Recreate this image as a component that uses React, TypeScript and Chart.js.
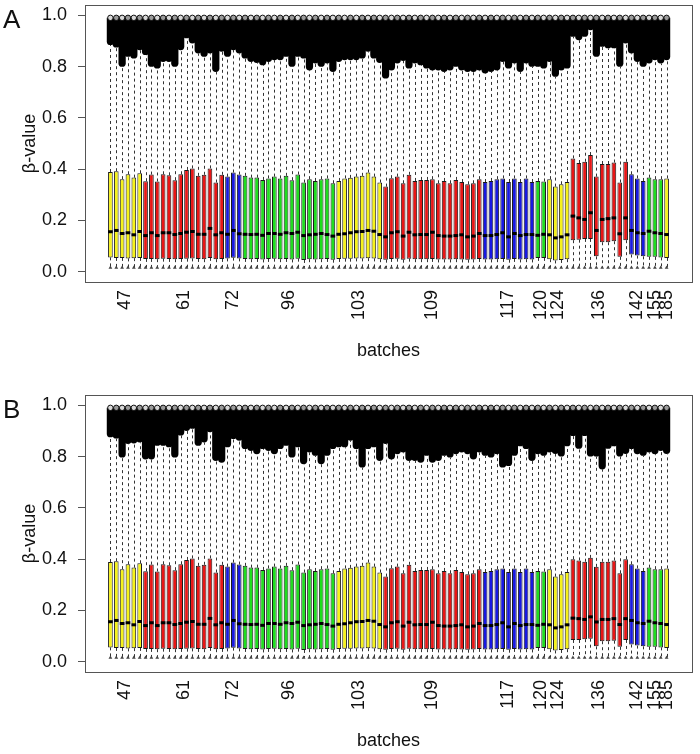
import React, { useEffect, useRef } from 'react';
import { Chart, registerables } from 'chart.js';

Chart.register(...registerables);

// ---- data ----
const batchLabels = ['47', '61', '72', '96', '103', '109', '117', '120', '124', '136', '142', '155', '185'];
const batchSizes = [6, 14, 3, 16, 8, 17, 9, 2, 4, 10, 3, 3, 1];
const batchColors = ['yellow', 'red', 'blue', 'green', 'yellow', 'red', 'blue', 'green', 'yellow', 'red', 'blue', 'green', 'yellow'];
const yTickValues = [0, 0.2, 0.4, 0.6, 0.8, 1.0];
const lowerWhiskerEnd = 0.016;
const outlierMax = 0.99;

// Panel A
const q1A = [
  0.056, 0.054, 0.054, 0.052, 0.053, 0.054,
  0.050, 0.050, 0.049, 0.051, 0.050, 0.049, 0.050, 0.051, 0.052, 0.050, 0.049, 0.054, 0.049, 0.050,
  0.052, 0.055, 0.052,
  0.050, 0.049, 0.050, 0.048, 0.050, 0.051, 0.049, 0.050, 0.048, 0.051, 0.046, 0.049, 0.048, 0.049, 0.050, 0.047,
  0.050, 0.051, 0.051, 0.052, 0.052, 0.053, 0.052, 0.049,
  0.047, 0.050, 0.051, 0.047, 0.051, 0.049, 0.049, 0.049, 0.050, 0.048, 0.048, 0.048, 0.049, 0.048, 0.047, 0.048, 0.050,
  0.048, 0.048, 0.049, 0.050, 0.047, 0.050, 0.048, 0.049, 0.048,
  0.054, 0.054,
  0.049, 0.044, 0.046, 0.049,
  0.123, 0.125, 0.128, 0.128, 0.060, 0.115, 0.115, 0.119, 0.058, 0.123,
  0.067, 0.063, 0.060,
  0.058, 0.058, 0.056,
  0.054,
];
const medA = [
  0.156, 0.161, 0.149, 0.152, 0.144, 0.157,
  0.141, 0.152, 0.141, 0.152, 0.152, 0.145, 0.149, 0.154, 0.157, 0.146, 0.146, 0.169, 0.144, 0.152,
  0.146, 0.161, 0.148,
  0.146, 0.145, 0.146, 0.142, 0.149, 0.149, 0.146, 0.152, 0.149, 0.154, 0.141, 0.144, 0.146, 0.149, 0.145, 0.139,
  0.146, 0.148, 0.152, 0.156, 0.157, 0.161, 0.158, 0.145,
  0.136, 0.152, 0.156, 0.139, 0.154, 0.144, 0.145, 0.145, 0.154, 0.141, 0.139, 0.139, 0.141, 0.144, 0.136, 0.139, 0.149,
  0.141, 0.141, 0.145, 0.152, 0.136, 0.149, 0.141, 0.145, 0.145,
  0.142, 0.146,
  0.144, 0.132, 0.136, 0.144,
  0.217, 0.210, 0.204, 0.230, 0.161, 0.204, 0.207, 0.210, 0.148, 0.210,
  0.161, 0.152, 0.149,
  0.158, 0.152, 0.149,
  0.145,
];
const q3A = [
  0.389, 0.392, 0.361, 0.380, 0.367, 0.384,
  0.353, 0.379, 0.352, 0.380, 0.376, 0.357, 0.380, 0.397, 0.403, 0.374, 0.378, 0.403, 0.348, 0.378,
  0.371, 0.387, 0.379,
  0.374, 0.367, 0.367, 0.358, 0.364, 0.371, 0.364, 0.374, 0.357, 0.379, 0.348, 0.361, 0.354, 0.361, 0.364, 0.345,
  0.354, 0.364, 0.366, 0.371, 0.374, 0.387, 0.371, 0.348,
  0.332, 0.365, 0.371, 0.345, 0.378, 0.354, 0.358, 0.358, 0.361, 0.345, 0.354, 0.345, 0.358, 0.350, 0.341, 0.345, 0.361,
  0.350, 0.354, 0.361, 0.364, 0.350, 0.364, 0.350, 0.364, 0.350,
  0.354, 0.352,
  0.361, 0.332, 0.341, 0.350,
  0.442, 0.424, 0.429, 0.455, 0.371, 0.420, 0.420, 0.426, 0.348, 0.429,
  0.380, 0.364, 0.354,
  0.367, 0.361, 0.361,
  0.364,
];
// lowest edge of the upper outlier cloud
const upperA = [
  0.884, 0.874, 0.799, 0.838, 0.831, 0.864,
  0.845, 0.799, 0.792, 0.818, 0.818, 0.799, 0.864, 0.910, 0.890, 0.851, 0.838, 0.851, 0.779, 0.858,
  0.838, 0.864, 0.851,
  0.831, 0.818, 0.814, 0.805, 0.818, 0.825, 0.825, 0.838, 0.799, 0.838, 0.831, 0.785, 0.812, 0.799, 0.812, 0.779,
  0.818, 0.825, 0.825, 0.825, 0.831, 0.858, 0.831, 0.814,
  0.753, 0.785, 0.812, 0.822, 0.792, 0.812, 0.805, 0.792, 0.785, 0.785, 0.779, 0.785, 0.799, 0.785, 0.779, 0.779, 0.785,
  0.773, 0.779, 0.785, 0.818, 0.792, 0.812, 0.779, 0.812, 0.799,
  0.799, 0.792,
  0.818, 0.760, 0.785, 0.792,
  0.916, 0.903, 0.916, 0.942, 0.838, 0.877, 0.871, 0.871, 0.799, 0.890,
  0.851, 0.818, 0.799,
  0.812, 0.825, 0.812,
  0.825,
];

// Panel B
const q1B = [
  0.056, 0.054, 0.054, 0.052, 0.053, 0.054,
  0.050, 0.050, 0.049, 0.051, 0.050, 0.049, 0.050, 0.051, 0.052, 0.050, 0.049, 0.054, 0.049, 0.050,
  0.052, 0.055, 0.052,
  0.050, 0.049, 0.050, 0.048, 0.050, 0.051, 0.049, 0.050, 0.048, 0.051, 0.046, 0.049, 0.048, 0.049, 0.050, 0.047,
  0.050, 0.051, 0.051, 0.052, 0.052, 0.053, 0.052, 0.049,
  0.047, 0.050, 0.051, 0.047, 0.051, 0.049, 0.049, 0.049, 0.050, 0.048, 0.048, 0.048, 0.049, 0.048, 0.047, 0.048, 0.050,
  0.048, 0.048, 0.049, 0.050, 0.047, 0.050, 0.048, 0.049, 0.048,
  0.054, 0.054,
  0.049, 0.044, 0.046, 0.049,
  0.085, 0.085, 0.088, 0.090, 0.060, 0.080, 0.080, 0.082, 0.058, 0.085,
  0.067, 0.063, 0.060,
  0.058, 0.058, 0.056,
  0.054,
];
const medB = [
  0.156, 0.161, 0.149, 0.152, 0.144, 0.157,
  0.141, 0.152, 0.141, 0.152, 0.152, 0.145, 0.149, 0.154, 0.157, 0.146, 0.146, 0.169, 0.144, 0.152,
  0.146, 0.161, 0.148,
  0.146, 0.145, 0.146, 0.142, 0.149, 0.149, 0.146, 0.152, 0.149, 0.154, 0.141, 0.144, 0.146, 0.149, 0.145, 0.139,
  0.146, 0.148, 0.152, 0.156, 0.157, 0.161, 0.158, 0.145,
  0.136, 0.152, 0.156, 0.139, 0.154, 0.144, 0.145, 0.145, 0.154, 0.141, 0.139, 0.139, 0.141, 0.144, 0.136, 0.139, 0.149,
  0.141, 0.141, 0.145, 0.152, 0.136, 0.149, 0.141, 0.145, 0.145,
  0.142, 0.146,
  0.144, 0.132, 0.136, 0.144,
  0.170, 0.168, 0.165, 0.175, 0.155, 0.165, 0.165, 0.168, 0.145, 0.168,
  0.161, 0.152, 0.149,
  0.158, 0.152, 0.149,
  0.145,
];
const q3B = [
  0.389, 0.392, 0.361, 0.380, 0.367, 0.384,
  0.353, 0.379, 0.352, 0.380, 0.376, 0.357, 0.380, 0.397, 0.403, 0.374, 0.378, 0.403, 0.348, 0.378,
  0.371, 0.387, 0.379,
  0.374, 0.367, 0.367, 0.358, 0.364, 0.371, 0.364, 0.374, 0.357, 0.379, 0.348, 0.361, 0.354, 0.361, 0.364, 0.345,
  0.354, 0.364, 0.366, 0.371, 0.374, 0.387, 0.371, 0.348,
  0.332, 0.365, 0.371, 0.345, 0.378, 0.354, 0.358, 0.358, 0.361, 0.345, 0.354, 0.345, 0.358, 0.350, 0.341, 0.345, 0.361,
  0.350, 0.354, 0.361, 0.364, 0.350, 0.364, 0.350, 0.364, 0.350,
  0.354, 0.352,
  0.361, 0.332, 0.341, 0.350,
  0.400, 0.395, 0.390, 0.405, 0.370, 0.390, 0.390, 0.395, 0.345, 0.400,
  0.380, 0.364, 0.354,
  0.367, 0.361, 0.361,
  0.364,
];
const upperB = [
  0.875, 0.870, 0.796, 0.849, 0.851, 0.855,
  0.789, 0.789, 0.842, 0.842, 0.836, 0.796, 0.882, 0.900, 0.908, 0.842, 0.855, 0.895, 0.783, 0.776,
  0.836, 0.868, 0.862,
  0.829, 0.822, 0.809, 0.829, 0.822, 0.809, 0.829, 0.842, 0.796, 0.836, 0.770, 0.816, 0.803, 0.770, 0.803, 0.829,
  0.836, 0.836, 0.862, 0.829, 0.757, 0.829, 0.836, 0.783,
  0.849, 0.789, 0.809, 0.816, 0.783, 0.783, 0.776, 0.803, 0.776, 0.783, 0.803, 0.796, 0.809, 0.816, 0.809, 0.789, 0.816,
  0.803, 0.796, 0.809, 0.757, 0.763, 0.803, 0.840, 0.829, 0.783,
  0.809, 0.803,
  0.816, 0.810, 0.800, 0.840,
  0.880, 0.830, 0.880, 0.800, 0.800, 0.750, 0.830, 0.840, 0.800, 0.810,
  0.829, 0.809, 0.803,
  0.816, 0.809, 0.822,
  0.810,
];

const palette: Record<string, string> = {
  yellow: '#f6f21c',
  red: '#e91616',
  blue: '#1818e2',
  green: '#20dd20',
};

const FONT = "'Liberation Sans', Arial, Helvetica, sans-serif";

function boxColors(): string[] {
  const out: string[] = [];
  batchSizes.forEach((n, g) => {
    for (let k = 0; k < n; k++) out.push(palette[batchColors[g]]);
  });
  return out;
}

function groupCenters(): number[] {
  let start = 1;
  return batchSizes.map((n) => {
    const c = start + (n - 1) / 2;
    start += n;
    return c;
  });
}

type PanelData = {
  letter: string;
  q1: number[];
  med: number[];
  q3: number[];
  upper: number[];
};

const panelA: PanelData = { letter: 'A', q1: q1A, med: medA, q3: q3A, upper: upperA };
const panelB: PanelData = { letter: 'B', q1: q1B, med: medB, q3: q3B, upper: upperB };

function makePlugin(panel: PanelData) {
  return {
    id: 'boxExtras' + panel.letter,
    beforeDatasetsDraw(chart: any) {
      const { ctx, chartArea: ca, scales } = chart;
      const xs = scales.x;
      const ys = scales.y;
      const unit = xs.getPixelForValue(1) - xs.getPixelForValue(0);
      const r = unit * 0.62;
      ctx.save();
      ctx.beginPath();
      ctx.rect(ca.left, ca.top, ca.right - ca.left, ca.bottom - ca.top);
      ctx.clip();
      // dashed whiskers
      ctx.strokeStyle = '#333';
      ctx.lineWidth = 1;
      ctx.setLineDash([3, 3]);
      panel.q3.forEach((q3, i) => {
        const px = Math.round(xs.getPixelForValue(i + 1)) + 0.5;
        ctx.beginPath();
        ctx.moveTo(px, ys.getPixelForValue(q3));
        ctx.lineTo(px, ys.getPixelForValue(panel.upper[i]));
        ctx.moveTo(px, ys.getPixelForValue(panel.q1[i]));
        ctx.lineTo(px, ys.getPixelForValue(lowerWhiskerEnd));
        ctx.stroke();
      });
      ctx.setLineDash([]);
      // outlier clouds
      ctx.fillStyle = '#000';
      const top = ys.getPixelForValue(outlierMax);
      panel.upper.forEach((u, i) => {
        const px = xs.getPixelForValue(i + 1);
        const bot = ys.getPixelForValue(u);
        ctx.beginPath();
        ctx.roundRect(px - r, top, 2 * r, bot - top, [0, 0, r, r]);
        ctx.fill();
      });
      // outline circles on top of clouds
      ctx.lineWidth = 1;
      panel.upper.forEach((_u, i) => {
        const px = xs.getPixelForValue(i + 1);
        ctx.beginPath();
        ctx.arc(px, top, r * 0.75, 0, Math.PI * 2);
        ctx.fillStyle = i % 2 === 0 ? '#d8d8d8' : '#9a9a9a';
        ctx.fill();
        ctx.strokeStyle = '#111';
        ctx.stroke();
      });
      ctx.restore();
    },
    afterDatasetsDraw(chart: any) {
      const { ctx, chartArea: ca, scales } = chart;
      const xs = scales.x;
      const ys = scales.y;
      ctx.save();
      // medians
      ctx.strokeStyle = '#000';
      ctx.lineWidth = 3;
      panel.med.forEach((m, i) => {
        const py = ys.getPixelForValue(m);
        ctx.beginPath();
        ctx.moveTo(xs.getPixelForValue(i + 1 - 0.4), py);
        ctx.lineTo(xs.getPixelForValue(i + 1 + 0.4), py);
        ctx.stroke();
      });
      // frame
      ctx.strokeStyle = '#555';
      ctx.lineWidth = 1;
      ctx.strokeRect(Math.round(ca.left) + 0.5, Math.round(ca.top) + 0.5, Math.round(ca.right - ca.left), Math.round(ca.bottom - ca.top));
      // panel letter
      ctx.fillStyle = '#111';
      ctx.font = '26px ' + FONT;
      ctx.textAlign = 'left';
      ctx.textBaseline = 'alphabetic';
      ctx.fillText(panel.letter, 3, 28);
      ctx.restore();
    },
  };
}

function Panel({ panel }: { panel: PanelData }) {
  const ref = useRef<HTMLCanvasElement | null>(null);
  useEffect(() => {
    if (!ref.current) return;
    const n = panel.q1.length;
    const centers = groupCenters();
    const colors = boxColors();
    const chart = new Chart(ref.current, {
      type: 'bar',
      data: {
        datasets: [
          {
            type: 'scatter',
            data: panel.q1.map((_v, i) => ({ x: i + 1, y: lowerWhiskerEnd })),
            pointStyle: 'triangle',
            pointRadius: 2.2,
            backgroundColor: '#444',
            borderWidth: 0,
          } as any,
          {
            type: 'bar',
            data: panel.q1.map((v, i) => ({ x: i + 1, y: [v, panel.q3[i]] })),
            backgroundColor: colors,
            borderColor: '#1a1a1a',
            borderWidth: 1,
            borderSkipped: false,
            barPercentage: 0.8,
            categoryPercentage: 1,
            grouped: false,
          } as any,
        ],
      },
      options: {
        responsive: false,
        animation: false,
        devicePixelRatio: 1,
        layout: { padding: { left: 0, right: 8, top: 5, bottom: 0 } },
        plugins: { legend: { display: false }, tooltip: { enabled: false } },
        scales: {
          x: {
            type: 'linear',
            offset: false,
            min: 0.5 - 0.04 * n,
            max: n + 0.5 + 0.04 * n,
            grid: { display: false, drawTicks: false },
            border: { display: false },
            afterBuildTicks: (s: any) => {
              s.ticks = centers.map((v) => ({ value: v }));
            },
            afterFit: (s: any) => {
              s.height = 108;
              s.paddingLeft = 0;
              s.paddingRight = 0;
            },
            ticks: {
              autoSkip: false,
              maxRotation: 90,
              minRotation: 90,
              padding: 8,
              color: '#111',
              font: { family: FONT, size: 18 },
              callback: (_v: any, idx: number) => batchLabels[idx],
            },
            title: {
              display: true,
              text: 'batches',
              color: '#111',
              font: { family: FONT, size: 18 },
              padding: { top: 0, bottom: 28 },
            },
          },
          y: {
            type: 'linear',
            min: -0.04,
            max: 1.04,
            grid: { display: true, drawOnChartArea: false, drawTicks: true, tickLength: 7, color: '#555' },
            border: { display: false },
            afterBuildTicks: (s: any) => {
              s.ticks = yTickValues.map((v) => ({ value: v }));
            },
            afterFit: (s: any) => {
              s.width = 85;
              s.paddingTop = 0;
              s.paddingBottom = 0;
            },
            ticks: {
              padding: 11,
              color: '#111',
              font: { family: FONT, size: 18 },
              callback: (v: any) => Number(v).toFixed(1),
            },
            title: {
              display: true,
              text: 'β-value',
              color: '#111',
              font: { family: FONT, size: 18 },
              padding: { top: 19, bottom: 0 },
            },
          },
        },
      } as any,
      plugins: [makePlugin(panel)],
    });
    return () => chart.destroy();
  }, [panel]);
  return <canvas ref={ref} width={700} height={390} style={{ display: 'block', width: 700, height: 390 }} />;
}

export default function App() {
  return (
    <div style={{ position: 'fixed', left: 0, top: 0, width: 700, height: 754, overflow: 'hidden', background: '#fff' }}>
      <Panel panel={panelA} />
      <Panel panel={panelB} />
    </div>
  );
}
